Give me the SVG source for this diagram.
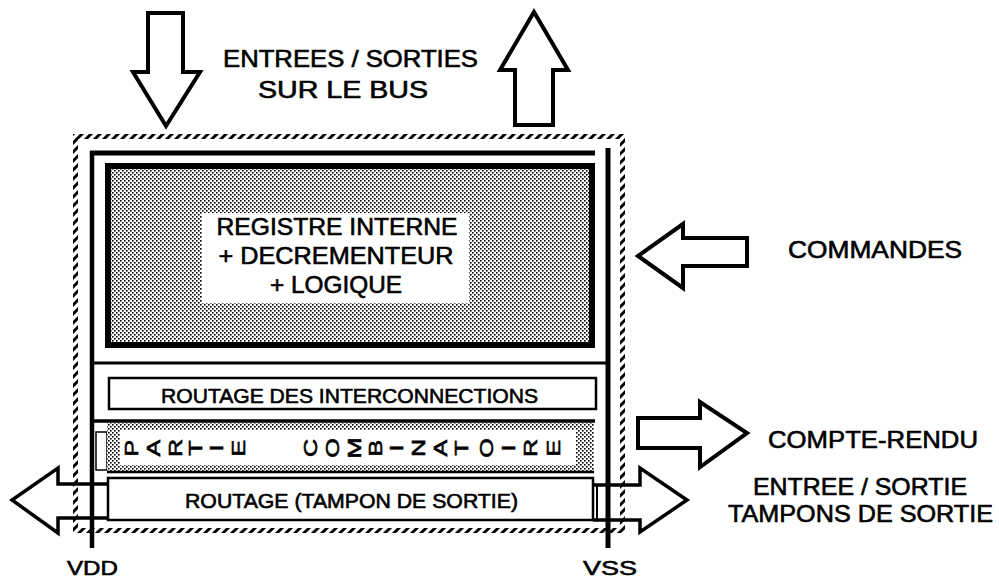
<svg xmlns="http://www.w3.org/2000/svg" width="999" height="580" viewBox="0 0 999 580">
<style>
  text { font-family: "Liberation Sans", Arial, sans-serif; fill: #000; stroke: #000; stroke-width: 0.6; }
  .lbl { font-size: 24px; }
  .big { font-size: 24px; }
  .mid { font-size: 21px; }
  .comb { font-size: 18px; }
  .arrow { fill: #fff; stroke: #000; stroke-width: 4; stroke-linejoin: miter; }
  .arrowline { fill: none; stroke: #000; stroke-width: 3.5; stroke-linejoin: miter; }
  .line { stroke: #000; fill: none; }
  .box { fill: #fff; stroke: #000; stroke-width: 2.5; }
</style>
<defs>
  <pattern id="stipple" patternUnits="userSpaceOnUse" width="4" height="4">
    <rect width="4" height="4" fill="#fff"/>
    <rect x="0" y="0" width="1.6" height="1.6" fill="#000"/>
    <rect x="2" y="2" width="1.6" height="1.6" fill="#000"/>
  </pattern>
  <pattern id="hatch" patternUnits="userSpaceOnUse" width="9" height="9">
    <rect width="9" height="9" fill="#fff"/>
    <path d="M0,9 L9,0 M-2,2 L2,-2 M7,11 L11,7" stroke="#000" stroke-width="3"/>
  </pattern>
</defs>
<rect width="999" height="580" fill="#fff"/>

<!-- outer dashed boundary -->
<g id="boundary">
  <rect x="73" y="134" width="552" height="5" fill="url(#hatch)"/>
  <rect x="73" y="134" width="5" height="399" fill="url(#hatch)"/>
  <rect x="620" y="134" width="5" height="399" fill="url(#hatch)"/>
  <rect x="73" y="528" width="552" height="5" fill="url(#hatch)"/>
</g>

<!-- inner frame / power rails -->
<g id="frame">
  <line class="line" x1="90" y1="153" x2="595" y2="153" stroke-width="5"/>
  <line class="line" x1="92" y1="151" x2="92" y2="548" stroke-width="4.5"/>
  <line class="line" x1="608" y1="148" x2="608" y2="548" stroke-width="5"/>
  <line class="line" x1="92" y1="363" x2="608" y2="363" stroke-width="3"/>
  <line class="line" x1="92" y1="421" x2="595" y2="421" stroke-width="3.5"/>
</g>

<g id="registre">
  <rect x="108" y="166" width="484" height="179" fill="url(#stipple)" stroke="#000" stroke-width="6"/>
  <rect x="202" y="213" width="267" height="90" fill="#fff"/>
  <text class="big" x="337" y="235" text-anchor="middle" textLength="241" lengthAdjust="spacingAndGlyphs">REGISTRE INTERNE</text>
  <text class="big" x="336" y="264" text-anchor="middle" textLength="235" lengthAdjust="spacingAndGlyphs">+ DECREMENTEUR</text>
  <text class="big" x="336" y="293" text-anchor="middle" textLength="132" lengthAdjust="spacingAndGlyphs">+ LOGIQUE</text>
</g>

<g id="routage-interconnections">
  <rect class="box" x="109" y="378" width="487" height="31"/>
  <text class="mid" x="349.5" y="403" text-anchor="middle" textLength="377" lengthAdjust="spacingAndGlyphs">ROUTAGE DES INTERCONNECTIONS</text>
</g>

<g id="partie-combinatoire">
  <rect x="96" y="432" width="11" height="38" fill="#fff" stroke="#000" stroke-width="1.5"/>
  <rect x="107" y="423" width="487" height="49" fill="url(#stipple)"/>
  <rect x="120" y="430" width="456" height="35" fill="#fff"/>
  <line class="line" x1="107" y1="472" x2="594" y2="472" stroke-width="2.5"/>
  <g>
    <text transform="translate(138,448) rotate(-90) scale(1.4,1)" text-anchor="middle" class="comb">P</text>
    <text transform="translate(160,448) rotate(-90) scale(1.4,1)" text-anchor="middle" class="comb">A</text>
    <text transform="translate(182,448) rotate(-90) scale(1.4,1)" text-anchor="middle" class="comb">R</text>
    <text transform="translate(202,448) rotate(-90) scale(1.4,1)" text-anchor="middle" class="comb">T</text>
    <text transform="translate(223,448) rotate(-90) scale(1.4,1)" text-anchor="middle" class="comb">I</text>
    <text transform="translate(245,448) rotate(-90) scale(1.4,1)" text-anchor="middle" class="comb">E</text>
    <text transform="translate(317,448) rotate(-90) scale(1.4,1)" text-anchor="middle" class="comb">C</text>
    <text transform="translate(339,448) rotate(-90) scale(1.4,1)" text-anchor="middle" class="comb">O</text>
    <text transform="translate(361,448) rotate(-90) scale(1.4,1)" text-anchor="middle" class="comb">M</text>
    <text transform="translate(382,448) rotate(-90) scale(1.4,1)" text-anchor="middle" class="comb">B</text>
    <text transform="translate(403,448) rotate(-90) scale(1.4,1)" text-anchor="middle" class="comb">I</text>
    <text transform="translate(425,448) rotate(-90) scale(1.4,1)" text-anchor="middle" class="comb">N</text>
    <text transform="translate(447,448) rotate(-90) scale(1.4,1)" text-anchor="middle" class="comb">A</text>
    <text transform="translate(468,448) rotate(-90) scale(1.4,1)" text-anchor="middle" class="comb">T</text>
    <text transform="translate(493,448) rotate(-90) scale(1.4,1)" text-anchor="middle" class="comb">O</text>
    <text transform="translate(515,448) rotate(-90) scale(1.4,1)" text-anchor="middle" class="comb">I</text>
    <text transform="translate(537,448) rotate(-90) scale(1.4,1)" text-anchor="middle" class="comb">R</text>
    <text transform="translate(560,448) rotate(-90) scale(1.4,1)" text-anchor="middle" class="comb">E</text>
  </g>
</g>

<g id="routage-tampon">
  <rect class="box" x="108" y="478" width="485" height="42"/>
  <line class="line" x1="597" y1="485" x2="597" y2="520" stroke-width="2"/>
  <text class="mid" x="351.5" y="508" text-anchor="middle" textLength="333" lengthAdjust="spacingAndGlyphs" style="font-size:20px">ROUTAGE (TAMPON DE SORTIE)</text>
</g>

<g id="connectors">
  <polygon class="arrow" points="148,13 183,13 183,72 200,72 166,126 133,72 148,72"/>
  <polygon class="arrow" points="515,125 553,125 553,70 568,70 534,12 500,70 515,70"/>
  <polygon class="arrow" points="747,238 747,266 683,266 683,288 638,256 683,224 683,238"/>
  <polygon class="arrow" points="638,418 700,418 700,402 747,433 700,467 700,448 638,448"/>
  <polyline class="arrowline" points="108,484 58,484 58,468 12,500 58,533 58,518 108,518"/>
  <polyline class="arrowline" points="593,485 640,485 640,468 687,500 640,532 640,520 593,520"/>
</g>

<g id="bus-label">
  <text class="lbl" x="350.5" y="67" text-anchor="middle" textLength="255" lengthAdjust="spacingAndGlyphs">ENTREES / SORTIES</text>
  <text class="lbl" x="343" y="98" text-anchor="middle" textLength="170" lengthAdjust="spacingAndGlyphs">SUR LE BUS</text>
</g>
<g id="commandes">
  <text class="lbl" x="875" y="258" text-anchor="middle" textLength="174" lengthAdjust="spacingAndGlyphs">COMMANDES</text>
</g>
<g id="compte-rendu">
  <text class="lbl" x="873" y="448" text-anchor="middle" textLength="210" lengthAdjust="spacingAndGlyphs">COMPTE-RENDU</text>
</g>
<g id="es-tampons">
  <text class="lbl" x="860" y="495" text-anchor="middle" textLength="214" lengthAdjust="spacingAndGlyphs">ENTREE / SORTIE</text>
  <text class="lbl" x="860.5" y="522" text-anchor="middle" textLength="265" lengthAdjust="spacingAndGlyphs">TAMPONS DE SORTIE</text>
</g>
<g id="vdd">
  <text class="lbl" x="92.5" y="575" text-anchor="middle" textLength="51" lengthAdjust="spacingAndGlyphs" style="font-size:21px">VDD</text>
</g>
<g id="vss">
  <text class="lbl" x="610" y="575" text-anchor="middle" textLength="54" lengthAdjust="spacingAndGlyphs" style="font-size:21px">VSS</text>
</g>
</svg>
